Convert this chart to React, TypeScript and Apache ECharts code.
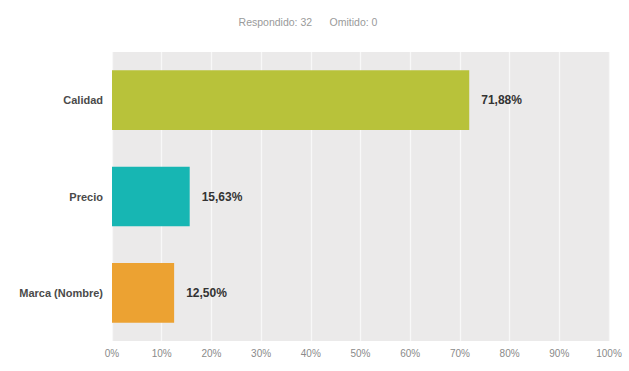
import React, { useEffect, useRef } from "react";
import * as echarts from "echarts";

const categories = ["Calidad", "Precio", "Marca (Nombre)"];
const values = [71.88, 15.63, 12.5];
const colors = ["#b8c23a", "#17b6b3", "#eca232"];
const summaryText = "Respondido: 32      Omitido: 0";

export default function App() {
  const ref = useRef<HTMLDivElement>(null);
  useEffect(() => {
    const chart = echarts.init(ref.current!, null, { renderer: "svg" });
    chart.setOption({
      animation: false,
      backgroundColor: "#ffffff",
      title: {
        text: summaryText,
        left: 303,
        textAlign: "center",
        top: 11,
        textStyle: { fontSize: 10.5, fontWeight: "normal", color: "#9a9a9a", fontFamily: "Liberation Sans" },
      },
      grid: {
        left: 112,
        right: 20,
        top: 52,
        bottom: 30,
        show: true,
        backgroundColor: "#ebeaea",
        borderWidth: 0,
      },
      xAxis: {
        type: "value",
        min: 0,
        max: 100,
        interval: 10,
        axisLine: { show: false },
        axisTick: { show: false },
        splitLine: { show: true, lineStyle: { color: "#f8f8f8", width: 1.2 } },
        axisLabel: {
          formatter: "{value}%",
          color: "#8a8a8a",
          fontSize: 10,
          margin: 7,
          fontFamily: "Liberation Sans",
        },
      },
      yAxis: {
        type: "category",
        data: categories,
        inverse: true,
        axisLine: { show: false },
        axisTick: { show: false },
        axisLabel: {
          color: "#4a4a4a",
          fontSize: 11,
          fontWeight: "bold",
          margin: 9,
          fontFamily: "Liberation Sans",
        },
      },
      series: [
        {
          type: "bar",
          data: values.map((v, i) => ({ value: v, itemStyle: { color: colors[i] } })),
          barWidth: "62%",
          label: {
            show: true,
            position: "right",
            distance: 12,
            formatter: (p: any) => p.value.toFixed(2).replace(".", ",") + "%",
            color: "#333333",
            fontSize: 12,
            fontWeight: "bold",
            fontFamily: "Liberation Sans",
          },
        },
      ],
    });
    return () => chart.dispose();
  }, []);
  return <div ref={ref} style={{ width: 629, height: 371, position: "absolute", left: 0, top: 0 }} />;
}
